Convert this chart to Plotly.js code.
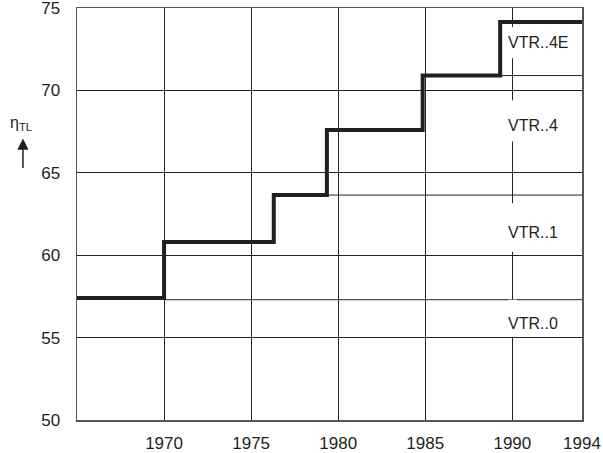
<!DOCTYPE html>
<html>
<head>
<meta charset="utf-8">
<script src="https://cdn.plot.ly/plotly-3.0.1.min.js"></script>
<style>html,body{margin:0;padding:0;background:#fff;}#chart{width:603px;height:453px;}</style>
</head>
<body>
<div id="chart"></div>
<script>
// Step curve of turbocharger efficiency over the years
const stepYears = [1965, 1970, 1976.3, 1979.35, 1984.85, 1989.3, 1994];
const stepEff = [57.4, 60.8, 63.65, 67.6, 70.9, 74.15, 74.15];
// Thin boundary lines separating the VTR generations
const boundaryStart = [1970, 1979.35, 1989.3];
const boundaryEff = [57.3, 63.65, 70.9];
const boundaryEnd = 1994;
// Generation labels
const genLabels = ['VTR..0', 'VTR..1', 'VTR..4', 'VTR..4E'];
const genLabelEff = [55.85, 61.4, 67.85, 72.9];
const genLabelYear = 1989.65;
// White gaps in the 1990 gridline behind labels
const gapLow = [55.05, 60.2, 66.9, 71.95];
const gapHigh = [57.3, 63.15, 69.4, 73.85];
// Axis ticks
const xTicks = [1970, 1975, 1980, 1985, 1990, 1994];
const yTicks = [50, 55, 60, 65, 70, 75];

const ink = '#231f20';
const gridC = '#222222';
const fam = 'Liberation Sans, Arial, sans-serif';

const traces = [];
boundaryStart.forEach((s, i) => {
  traces.push({
    x: [s, boundaryEnd], y: [boundaryEff[i], boundaryEff[i]],
    mode: 'lines', line: {color: gridC, width: 1}, hoverinfo: 'skip', showlegend: false
  });
});
traces.push({
  x: stepYears, y: stepEff, mode: 'lines',
  line: {shape: 'hv', color: ink, width: 4}, showlegend: false
});

const shapes = gapLow.map((lo, i) => ({
  type: 'rect', xref: 'x', yref: 'y', x0: 1989.75, x1: 1990.25, y0: lo, y1: gapHigh[i],
  fillcolor: '#ffffff', line: {width: 0}, layer: 'above'
}));

const annotations = genLabels.map((t, i) => ({
  x: genLabelYear, y: genLabelEff[i], xref: 'x', yref: 'y', text: t,
  xanchor: 'left', yanchor: 'middle', showarrow: false,
  font: {family: fam, size: 16, color: ink}
}));
annotations.push({
  xref: 'paper', yref: 'paper', x: -0.111, y: 0.719, xanchor: 'center', yanchor: 'middle',
  text: 'η<sub>TL</sub>', showarrow: false,
  font: {family: fam, size: 16, color: ink}
});
annotations.push({
  xref: 'paper', yref: 'paper', x: -0.107, y: 0.683, xanchor: 'center', yanchor: 'bottom',
  text: '', showarrow: true, ax: 0, ay: 33, arrowhead: 2, arrowsize: 1.5, arrowwidth: 1.5,
  arrowcolor: ink, standoff: 0
});

const layout = {
  width: 603, height: 453,
  margin: {l: 77, r: 21, t: 8, b: 33},
  paper_bgcolor: '#ffffff', plot_bgcolor: '#ffffff',
  font: {family: fam, size: 16, color: ink},
  xaxis: {
    range: [1965, 1994], tickmode: 'array', tickvals: xTicks, ticktext: xTicks.map(String),
    showgrid: true, gridcolor: gridC, gridwidth: 1, zeroline: false,
    showline: true, linecolor: '#555555', linewidth: 1.5, mirror: true,
    ticks: '', ticklabelstandoff: 7, ticklabeloverflow: 'allow',
    tickfont: {family: fam, size: 17, color: ink}
  },
  yaxis: {
    range: [50, 75], tickmode: 'array', tickvals: yTicks, ticktext: yTicks.map(String),
    showgrid: true, gridcolor: gridC, gridwidth: 1, zeroline: false,
    showline: true, linecolor: '#555555', linewidth: 1.5, mirror: true,
    ticks: '', ticklabelstandoff: 12, ticklabeloverflow: 'allow',
    tickfont: {family: fam, size: 17, color: ink}
  },
  shapes: shapes,
  annotations: annotations
};

Plotly.newPlot('chart', traces, layout, {displayModeBar: false, staticPlot: true});
</script>
</body>
</html>
